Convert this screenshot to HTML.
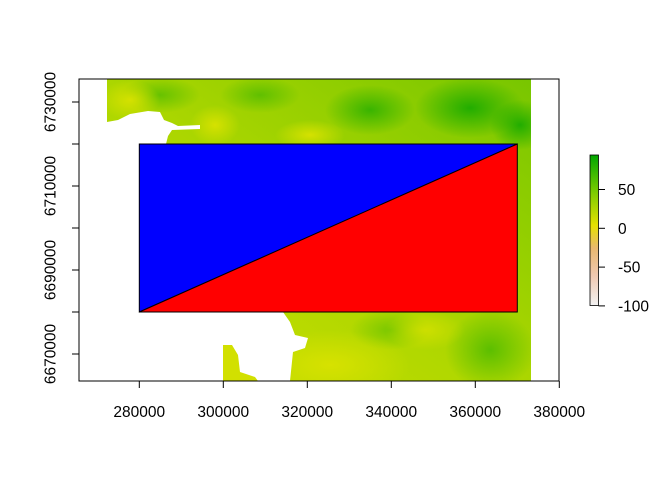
<!DOCTYPE html>
<html><head><meta charset="utf-8"><style>
body{margin:0;background:#fff;}
svg{display:block;font-family:"Liberation Sans",Arial,sans-serif;}
</style></head><body>
<svg id="chart" width="672" height="480" viewBox="0 0 672 480">
<defs>
<linearGradient id="legendGrad" x1="0" y1="1" x2="0" y2="0">
<stop offset="0" stop-color="#F2F2F2"/><stop offset="0.2" stop-color="#EFC8B0"/>
<stop offset="0.38" stop-color="#E9B870"/><stop offset="0.53" stop-color="#E6E000"/>
<stop offset="0.75" stop-color="#7DCC00"/><stop offset="1" stop-color="#00A600"/>
</linearGradient>
<linearGradient id="baseGrad" x1="0" y1="1" x2="1" y2="0">
<stop offset="0" stop-color="#D0E000"/><stop offset="0.5" stop-color="#ABD600"/><stop offset="1" stop-color="#78C600"/>
</linearGradient>
<radialGradient id="dg"><stop offset="0" stop-color="#10A800" stop-opacity="0.85"/><stop offset="1" stop-color="#10A800" stop-opacity="0"/></radialGradient>
<radialGradient id="yl"><stop offset="0" stop-color="#D8E200" stop-opacity="0.95"/><stop offset="1" stop-color="#D8E200" stop-opacity="0"/></radialGradient>
<clipPath id="rclip"><rect x="107" y="79" width="424" height="302"/></clipPath>
</defs>
<g id="raster" clip-path="url(#rclip)">
<rect x="107" y="79" width="424" height="302" fill="url(#baseGrad)"/>
<ellipse cx="470" cy="108" rx="55" ry="30" fill="url(#dg)"/>
<ellipse cx="520" cy="125" rx="30" ry="25" fill="url(#dg)"/>
<ellipse cx="370" cy="110" rx="45" ry="25" fill="url(#dg)" opacity="0.8"/>
<ellipse cx="160" cy="95" rx="40" ry="18" fill="url(#dg)" opacity="0.5"/>
<ellipse cx="260" cy="95" rx="40" ry="18" fill="url(#dg)" opacity="0.5"/>
<ellipse cx="490" cy="350" rx="45" ry="40" fill="url(#dg)" opacity="0.6"/>
<ellipse cx="390" cy="330" rx="40" ry="20" fill="url(#dg)" opacity="0.4"/>
<ellipse cx="310" cy="135" rx="35" ry="15" fill="url(#yl)"/>
<ellipse cx="215" cy="125" rx="25" ry="20" fill="url(#yl)"/>
<ellipse cx="130" cy="100" rx="30" ry="20" fill="url(#yl)"/>
<ellipse cx="330" cy="365" rx="80" ry="35" fill="url(#yl)"/>
<ellipse cx="425" cy="330" rx="40" ry="20" fill="url(#yl)" opacity="0.8"/>
<polygon fill="#fff" points="107,122 118,120 130,114 148,111 160,112 164,120 172,123 178,126 200,125 200,129 172,130 168,136 166,144 107,144"/>
<rect x="107" y="143" width="33" height="170" fill="#fff"/>
<polygon fill="#fff" points="107,312 283,312 290,322 295,335 308,338 305,348 293,352 290,381 107,381"/>
<polygon fill="#D2E000" points="223,345 232,345 238,355 240,372 255,377 258,381 223,381"/>
</g>
<g id="polys"></g>
<rect x="79" y="79" width="480" height="302" fill="none" stroke="#000" stroke-width="1"/>
<g id="axes"></g>
<g id="legend">
<rect x="590" y="155" width="8.5" height="150.5" fill="url(#legendGrad)" stroke="#000" stroke-width="0.8"/>
</g>
<script>
var xTicks=[280000,300000,320000,340000,360000,380000];
var yMinorTicks=[6670000,6680000,6690000,6700000,6710000,6720000,6730000];
var yLabels=[6670000,6690000,6710000,6730000];
var legendTicks=[50,0,-50,-100];
var blueTri=[[280000,6680000],[280000,6720000],[370000,6720000]];
var redTri=[[280000,6680000],[370000,6720000],[370000,6680000]];
var NS='http://www.w3.org/2000/svg';
function sx(v){return 139.3+(v-280000)*0.0042;}
function sy(v){return 312+(6680000-v)*0.0042;}
function ly(v){return 228.3-v*0.776;}
function mk(t,a,p){var e=document.createElementNS(NS,t);for(var k in a)e.setAttribute(k,a[k]);p.appendChild(e);return e;}
var polys=document.getElementById('polys');
[[blueTri,'#0000FF','blue-polygon'],[redTri,'#FF0000','red-polygon']].forEach(function(d){
var p=mk('polygon',{points:d[0].map(function(c){return sx(c[0])+','+sy(c[1]);}).join(' '),fill:d[1],stroke:'#000','stroke-width':1},polys);


});
var ax=document.getElementById('axes');
var xl=mk('line',{x1:sx(xTicks[0]),x2:sx(xTicks[xTicks.length-1]),y1:381,y2:381,stroke:'#000'},ax);


xTicks.forEach(function(v){
var x=sx(v);
mk('line',{x1:x,x2:x,y1:381,y2:388,stroke:'#000'},ax);
var t=mk('text',{x:x,y:417,'text-anchor':'middle','font-size':15.5},ax);t.textContent=v;


});
yMinorTicks.forEach(function(v){mk('line',{x1:72,x2:79,y1:sy(v),y2:sy(v),stroke:'#000'},ax);});
yLabels.forEach(function(v){
var y=sy(v);
var t=mk('text',{x:0,y:0,'text-anchor':'middle','font-size':15.5,transform:'translate(55.5,'+y+') rotate(-90)'},ax);t.textContent=v;


});
var lg=document.getElementById('legend');
legendTicks.forEach(function(v){
var y=ly(v);
mk('line',{x1:598.5,x2:605,y1:y,y2:y,stroke:'#000'},lg);
var t=mk('text',{x:618,y:y+5.5,'font-size':15.5},lg);t.textContent=v;


});
</script>
</svg>
</body></html>
